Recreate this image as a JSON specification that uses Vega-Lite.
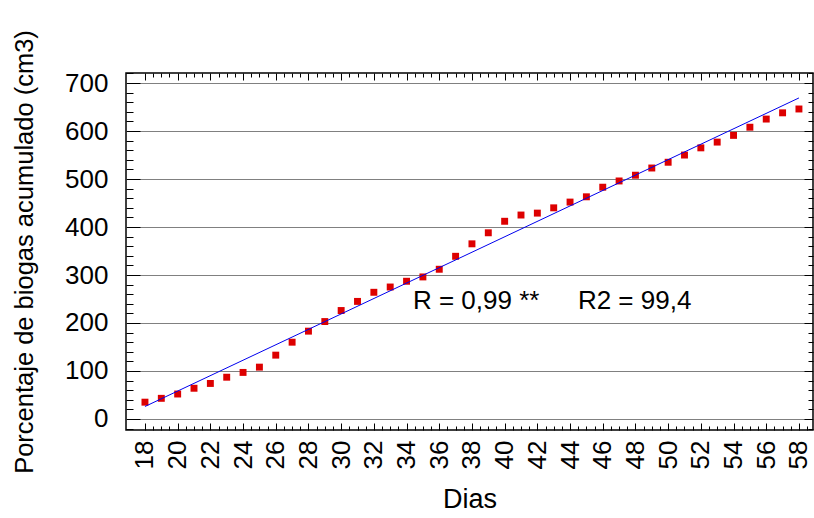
{
  "$schema": "https://vega.github.io/schema/vega-lite/v6.json",
  "width": 687,
  "height": 357,
  "autosize": "none",
  "padding": {"left": 126, "top": 73, "right": 1, "bottom": 88},
  "background": "white",
  "config": {
    "view": {"stroke": "black", "strokeWidth": 1.5},
    "axis": {"domain": false, "tickColor": "black", "tickWidth": 1, "labelColor": "black", "titleColor": "black", "titleFontWeight": "normal", "labelOverlap": false, "labelFlush": false}
  },
  "datasets": {
    "obs": [
      {"dia": 18, "valor": 35}, {"dia": 19, "valor": 43}, {"dia": 20, "valor": 52}, {"dia": 21, "valor": 64},
      {"dia": 22, "valor": 74}, {"dia": 23, "valor": 87}, {"dia": 24, "valor": 97}, {"dia": 25, "valor": 108},
      {"dia": 26, "valor": 133}, {"dia": 27, "valor": 160}, {"dia": 28, "valor": 183}, {"dia": 29, "valor": 203},
      {"dia": 30, "valor": 226}, {"dia": 31, "valor": 245}, {"dia": 32, "valor": 264}, {"dia": 33, "valor": 275},
      {"dia": 34, "valor": 287}, {"dia": 35, "valor": 296}, {"dia": 36, "valor": 312}, {"dia": 37, "valor": 339},
      {"dia": 38, "valor": 365}, {"dia": 39, "valor": 388}, {"dia": 40, "valor": 412}, {"dia": 41, "valor": 425},
      {"dia": 42, "valor": 429}, {"dia": 43, "valor": 440}, {"dia": 44, "valor": 452}, {"dia": 45, "valor": 463},
      {"dia": 46, "valor": 483}, {"dia": 47, "valor": 496}, {"dia": 48, "valor": 508}, {"dia": 49, "valor": 523},
      {"dia": 50, "valor": 535}, {"dia": 51, "valor": 550}, {"dia": 52, "valor": 565}, {"dia": 53, "valor": 577},
      {"dia": 54, "valor": 591}, {"dia": 55, "valor": 608}, {"dia": 56, "valor": 625}, {"dia": 57, "valor": 638},
      {"dia": 58, "valor": 646}
    ],
    "fit": [{"dia": 18, "valor": 26}, {"dia": 58, "valor": 669}]
  },
  "layer": [
    {
      "data": {"name": "obs"},
      "mark": {"type": "point", "shape": "square", "filled": true, "size": 48, "color": "#DD0000", "opacity": 1},
      "encoding": {
        "x": {
          "field": "dia", "type": "quantitative",
          "scale": {"domain": [16.84, 58.86], "nice": false, "zero": false},
          "axis": {
            "orient": "bottom",
            "values": [18,18.5,19,19.5,20,20.5,21,21.5,22,22.5,23,23.5,24,24.5,25,25.5,26,26.5,27,27.5,28,28.5,29,29.5,30,30.5,31,31.5,32,32.5,33,33.5,34,34.5,35,35.5,36,36.5,37,37.5,38,38.5,39,39.5,40,40.5,41,41.5,42,42.5,43,43.5,44,44.5,45,45.5,46,46.5,47,47.5,48,48.5,49,49.5,50,50.5,51,51.5,52,52.5,53,53.5,54,54.5,55,55.5,56,56.5,57,57.5,58,58.5],
            "title": "Dias",
            "titleFont": "Liberation Sans, Arial, sans-serif",
            "titleFontSize": 27,
            "titlePadding": 18,
            "labelFont": "Liberation Sans, Arial, sans-serif",
            "labelFontSize": 26,
            "labelAngle": -90,
            "labelPadding": 17,
            "labelExpr": "datum.value % 2 === 0 ? format(datum.value, 'd') : ''",
            "tickSize": {"condition": {"test": "datum.value % 2 === 0", "value": -7}, "value": -4},
            "grid": false
          }
        },
        "y": {
          "field": "valor", "type": "quantitative",
          "scale": {"domain": [-23, 721], "nice": false, "zero": false},
          "axis": {
            "orient": "left",
            "values": [-20,0,20,40,60,80,100,120,140,160,180,200,220,240,260,280,300,320,340,360,380,400,420,440,460,480,500,520,540,560,580,600,620,640,660,680,700,720],
            "title": "Porcentaje de biogas acumulado (cm3)",
            "titleFont": "Liberation Sans, Arial, sans-serif",
            "titleFontSize": 25.5,
            "titlePadding": 27,
            "labelFont": "Liberation Sans, Arial, sans-serif",
            "labelFontSize": 26,
            "labelPadding": 32,
            "labelExpr": "datum.value % 100 === 0 ? format(datum.value, 'd') : ''",
            "tickSize": {"condition": {"test": "datum.value % 100 === 0", "value": -14}, "value": -7},
            "grid": true,
            "gridColor": "#808080",
            "gridWidth": 1.2,
            "gridOpacity": {"condition": {"test": "datum.value % 100 === 0", "value": 1}, "value": 0}
          }
        }
      }
    },
    {
      "data": {"name": "fit"},
      "mark": {"type": "line", "color": "#0000EE", "strokeWidth": 1},
      "encoding": {
        "x": {
          "field": "dia", "type": "quantitative",
          "axis": {
            "orient": "top",
            "values": [18,18.5,19,19.5,20,20.5,21,21.5,22,22.5,23,23.5,24,24.5,25,25.5,26,26.5,27,27.5,28,28.5,29,29.5,30,30.5,31,31.5,32,32.5,33,33.5,34,34.5,35,35.5,36,36.5,37,37.5,38,38.5,39,39.5,40,40.5,41,41.5,42,42.5,43,43.5,44,44.5,45,45.5,46,46.5,47,47.5,48,48.5,49,49.5,50,50.5,51,51.5,52,52.5,53,53.5,54,54.5,55,55.5,56,56.5,57,57.5,58,58.5],
            "title": null,
            "labels": false,
            "tickSize": {"condition": {"test": "datum.value % 2 === 0", "value": -7}, "value": -4},
            "grid": false
          }
        },
        "y": {
          "field": "valor", "type": "quantitative",
          "axis": {
            "orient": "right",
            "values": [-20,0,20,40,60,80,100,120,140,160,180,200,220,240,260,280,300,320,340,360,380,400,420,440,460,480,500,520,540,560,580,600,620,640,660,680,700,720],
            "title": null,
            "labels": false,
            "tickSize": {"condition": {"test": "datum.value % 100 === 0", "value": -9}, "value": -5},
            "grid": false
          }
        }
      }
    },
    {
      "data": {"values": [{}]},
      "mark": {"type": "text", "text": "R = 0,99 **", "align": "left", "baseline": "alphabetic", "font": "Liberation Sans, Arial, sans-serif", "fontSize": 26, "color": "black"},
      "encoding": {
        "x": {"datum": 34.39, "type": "quantitative", "axis": null},
        "y": {"datum": 229, "type": "quantitative", "axis": null}
      }
    },
    {
      "data": {"values": [{}]},
      "mark": {"type": "text", "text": "R2 = 99,4", "align": "left", "baseline": "alphabetic", "font": "Liberation Sans, Arial, sans-serif", "fontSize": 26, "color": "black"},
      "encoding": {
        "x": {"datum": 44.48, "type": "quantitative", "axis": null},
        "y": {"datum": 229, "type": "quantitative", "axis": null}
      }
    }
  ],
  "resolve": {"axis": {"x": "independent", "y": "independent"}}
}
